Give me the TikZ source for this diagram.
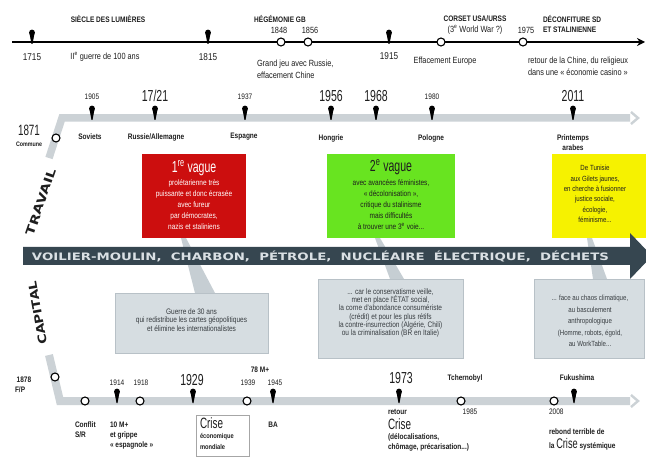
\documentclass[tikz,border=0pt]{standalone}
\usepackage{graphicx}
\usepackage{fontspec}
\setmainfont{Liberation Sans}
\newfontfamily\cnd[FakeStretch=0.82]{Liberation Sans}
\newfontfamily\cndx[FakeStretch=0.66]{Liberation Sans}
\newfontfamily\dvs{DejaVu Sans}
\usetikzlibrary{arrows.meta}
\newcommand\fs[2]{\fontsize{#1}{#2}\selectfont}
\definecolor{barg}{RGB}{204,210,214}
\definecolor{darkbar}{RGB}{54,70,80}
\definecolor{bartxt}{RGB}{218,224,228}
\definecolor{boxg}{RGB}{214,221,225}
\definecolor{boxgb}{RGB}{184,193,199}
\definecolor{wedgec}{RGB}{198,206,211}
\definecolor{vred}{RGB}{204,14,14}
\definecolor{vgreen}{RGB}{104,228,32}
\definecolor{vyel}{RGB}{246,242,0}
\definecolor{ink}{RGB}{30,30,30}
\definecolor{gink}{RGB}{55,60,64}
\tikzset{mypin/.pic={\fill[black] (0,-9.5) circle[radius=2.9bp];
  \fill[black] (-2.6,-9) -- (2.6,-9) -- (0.5,2) -- (-0.5,2) -- cycle;}}
\begin{document}
\begin{tikzpicture}[x=1bp,y=-1bp,
  every node/.style={inner sep=0pt,outer sep=0pt,text=ink},
  hd/.style={font=\cnd\bfseries\fs{8}{9}},
  tl/.style={font=\cnd\fs{9}{10.5}},
  tyr/.style={font=\cnd\fs{10}{11}},
  myr/.style={font=\cnd\fs{9}{10}},
  syr/.style={font=\cnd\fs{8}{9}},
  byr/.style={font=\cndx\fs{16}{16}},
  lb/.style={font=\cnd\bfseries\fs{8}{9}},
  ring/.style={circle,draw=black,fill=white,line width=1.1bp,minimum size=8bp},
  bar/.style={draw=barg,line width=7.5bp},
  chev/.style={draw=barg,line width=2.4bp},
  gbox/.style={rectangle,fill=boxg,draw=boxgb,line width=0.6bp},
  gtxt/.style={align=center,text=gink,font=\cnd\fs{8}{8.5}},
  vbox/.style={rectangle,minimum height=84bp},
  wedge/.style={fill=wedgec}
]
\fill[white] (0,0) rectangle (646,463);
\useasboundingbox (0,0) rectangle (646,463);

% ---------------- top timeline
\coordinate (ta) at (12,42);
\coordinate (tb) at (645,42);
\draw[line width=1.8bp,-{Stealth[length=8bp,width=8bp]}] (ta) -- (tb);
\pic at (32,42) {mypin};
\pic at (208,42) {mypin};
\pic at (389,42) {mypin};
\node[ring] (c1848) at (281,42) {};
\node[ring] (c1856) at (308,42) {};
\node[ring] (c1945) at (441,42) {};
\node[ring] (c1975) at (523,42) {};

\node[hd] (h1) at (108,19) {SIÈCLE DES LUMIÈRES};
\node[hd] (h2) at (280,19) {HÉGÉMONIE GB};
\node[hd] (h3) at (475,19) {CORSET USA/URSS};
\node[tl] (h3b) at (475,30) {(3\textsuperscript{e} World War ?)};
\node[hd,anchor=west] (h4) at (543,19) {DÉCONFITURE SD};
\node[hd,anchor=west] (h4b) at (543,30) {ET STALINIENNE};
\node[myr] (y1848) at (279,30) {1848};
\node[myr] (y1856) at (310,30) {1856};
\node[myr] (y1975) at (526,30) {1975};
\node[tyr] (y1715) at (32,57) {1715};
\node[tyr] (y1815) at (208,57) {1815};
\node[tyr] (y1915) at (389,56) {1915};
\node[tl] (g100) at (105,57) {II\textsuperscript{e} guerre de 100 ans};
\node[tl,anchor=west] (gj1) at (257,64) {Grand jeu avec Russie,};
\node[tl,anchor=west] (gj2) at (257,75) {effacement Chine};
\node[tl] (eff) at (445,61) {Effacement Europe};
\node[tl,anchor=west] (ret1) at (528,61) {retour de la Chine, du religieux};
\node[tl,anchor=west] (ret2) at (528,72) {dans une «~économie casino~»};

% ---------------- wedges behind
\fill[wedge] (181,238) -- (186,238) -- (215,293) -- (195,293) -- cycle;
\fill[wedge] (375,238) -- (380,238) -- (404,279) -- (390,279) -- cycle;
\fill[wedge] (587,238) -- (592,238) -- (607,279) -- (593,279) -- cycle;

% ---------------- travail line
\coordinate (tw0) at (49,158);
\coordinate (tw1) at (62,118);
\coordinate (tw2) at (630,118);
\draw[bar,line join=miter] (tw0) -- (tw1) -- (tw2);
\draw[chev] (631,112) -- (638,118) -- (631,124);
\node[ring] (c1871) at (56,138) {};
\node[font=\cndx\fs{15}{15}] (y1871) at (29,130) {1871};
\node[font=\cnd\bfseries\fs{6.5}{7}] (comm) at (29,144) {Commune};
\foreach \x in {92,155,245,331,376,432,573} {\pic at (\x,118) {mypin};}
\node[syr] (y1905) at (92,97) {1905};
\node[byr] (y1721) at (155,96) {17/21};
\node[syr] (y1937) at (245,97) {1937};
\node[byr] (y1956) at (331,96) {1956};
\node[byr] (y1968) at (376,96) {1968};
\node[syr] (y1980) at (432,97) {1980};
\node[byr] (y2011) at (573,96) {2011};
\node[lb] (sov) at (90,137) {Soviets};
\node[lb] (rus) at (156,137) {Russie/Allemagne};
\node[lb] (esp) at (244,137) {Espagne};
\node[lb] (hon) at (331,138) {Hongrie};
\node[lb] (pol) at (431,138) {Pologne};
\node[lb,align=center,font=\cnd\bfseries\fs{8}{10}] (pri) at (573,143) {Printemps\\arabes};

% ---------------- colour boxes
\node[vbox,fill=vred,minimum width=104bp] (red) at (194,196) {};
\node[text=white,font=\cndx\fs{16}{16}] (redt) at (194,168) {1\textsuperscript{re} vague};
\node[text=white,align=center,font=\cnd\fs{8}{11}] (redb) at (194,205)
  {prolétarienne très\\puissante et donc écrasée\\avec fureur\\par démocrates,\\nazis et staliniens};
\node[vbox,fill=vgreen,minimum width=128bp] (green) at (391,196) {};
\node[font=\cndx\fs{16}{16}] (greent) at (391,167) {2\textsuperscript{e} vague};
\node[align=center,font=\cnd\fs{8}{11}] (greenb) at (391,205)
  {avec avancées féministes,\\«~décolonisation~»,\\critique du stalinisme\\mais difficultés\\à trouver une 3\textsuperscript{e} voie...};
\node[vbox,fill=vyel,minimum width=96bp] (yel) at (600,196) {};
\node[align=center,font=\cnd\fs{7.5}{10.4}] (yelb) at (595,194)
  {De Tunisie\\aux Gilets jaunes,\\en cherche à fusionner\\justice sociale,\\écologie,\\féminisme...};

% ---------------- dark energy bar
\fill[darkbar] (23,247) -- (630,247) -- (630,233) -- (652,256) -- (630,279) -- (630,265) -- (23,265) -- cycle;
\node[text=bartxt] (energy) at (320.5,256.5)
  {\resizebox{577bp}{9.5bp}{\dvs\bfseries VOILIER-MOULIN,\ \ CHARBON,\ \ PÉTROLE,\ \ NUCLÉAIRE\ \ ÉLECTRIQUE,\ \ DÉCHETS}};

% ---------------- side labels
\node[rotate=71] (trav) at (41,202) {\resizebox{69bp}{8.5bp}{\dvs\bfseries TRAVAIL}};
\node[rotate=100] (capi) at (37.5,313) {\resizebox{64bp}{8.5bp}{\dvs\bfseries CAPITAL}};

% ---------------- grey boxes
\node[gbox,minimum width=153bp,minimum height=60bp] (gb1) at (191.5,323) {};
\node[gtxt] (gb1t) at (191.5,320) {Guerre de 30 ans\\qui redistribue les cartes géopolitiques\\et élimine les internationalistes};
\node[gbox,minimum width=145bp,minimum height=79bp] (gb2) at (390.5,318.5) {};
\node[gtxt,font=\cnd\fs{8}{8.4}] (gb2t) at (390.5,313)
  {... car le conservatisme veille,\\met en place l'ÉTAT social,\\la corne d'abondance consumériste\\(crédit) et pour les plus rétifs\\la contre-insurrection (Algérie, Chili)\\ou la criminalisation (BR en Italie)};
\node[gbox,minimum width=110bp,minimum height=79bp] (gb3) at (589,318.5) {};
\node[gtxt,font=\cnd\fs{7.5}{11.5}] (gb3t) at (590,321)
  {... face au chaos climatique,\\au basculement\\anthropologique\\(Homme, robots, égoïd,\\au WorkTable...};

% ---------------- capital line
\coordinate (cp0) at (49,355);
\coordinate (cp1) at (60,401);
\coordinate (cp2) at (630,401);
\draw[bar,line width=8bp,line join=miter] (cp0) -- (cp1) -- (cp2);
\draw[chev] (631,395) -- (638,401) -- (631,407);
\node[ring] (c1878) at (55,377) {};
\node[font=\cnd\bfseries\fs{8}{9}] (y1878) at (24,380) {1878};
\node[font=\cnd\bfseries\fs{8}{9},anchor=west] (fp) at (15,390) {F/P};
\node[ring] (cSR) at (85,401) {};
\node[ring] (c1918) at (140,401) {};
\node[ring] (c1939) at (247,401) {};
\node[ring] (c1985) at (461,401) {};
\node[ring] (c2008) at (554,401) {};
\foreach \x in {117,193,273,399,574} {\pic at (\x,401) {mypin};}
\node[syr] (y1914) at (117,383) {1914};
\node[syr] (y1918) at (141,383) {1918};
\node[byr] (y1929) at (192,380) {1929};
\node[lb] (m78) at (260,370) {78 M+};
\node[syr] (y1939) at (248,383) {1939};
\node[syr] (y1945) at (275,383) {1945};
\node[byr] (y1973) at (401,378) {1973};
\node[lb] (tch) at (465,378) {Tchernobyl};
\node[lb] (fuk) at (577,378) {Fukushima};

\node[lb,anchor=west] (cf1) at (75,425) {Conflit};
\node[lb,anchor=west] (cf2) at (75,435) {S/R};
\node[lb,anchor=west] (m10a) at (110,425) {10 M+};
\node[lb,anchor=west] (m10b) at (110,435) {et grippe};
\node[lb,anchor=west] (m10c) at (110,445) {«~espagnole~»};
\node[rectangle,draw=black!35,fill=white,line width=0.8bp,minimum width=53bp,minimum height=41bp] (crbox) at (222.5,435.5) {};
\node[font=\cndx\fs{15}{15},anchor=west] (cr1) at (200,423) {Crise};
\node[lb,anchor=west,font=\cnd\bfseries\fs{7}{8}] (cr2) at (200,437) {économique};
\node[lb,anchor=west,font=\cnd\bfseries\fs{7}{8}] (cr3) at (200,447) {mondiale};
\node[lb] (ba) at (273,425) {BA};
\node[lb,anchor=west] (rt1) at (388,412) {retour};
\node[font=\cndx\fs{15}{15},anchor=west] (rt2) at (388,424) {Crise};
\node[lb,anchor=west] (rt3) at (388,437) {(délocalisations,};
\node[lb,anchor=west] (rt4) at (388,447) {chômage, précarisation...)};
\node[syr] (y1985) at (470,412) {1985};
\node[syr,anchor=west] (y2008) at (549,412) {2008};
\node[lb,anchor=west] (rb1) at (549,432) {rebond terrible de};
\node[lb,anchor=west] (rb2) at (549,444) {la {\cndx\fs{14}{14}\mdseries Crise} systémique};
\end{tikzpicture}
\end{document}
